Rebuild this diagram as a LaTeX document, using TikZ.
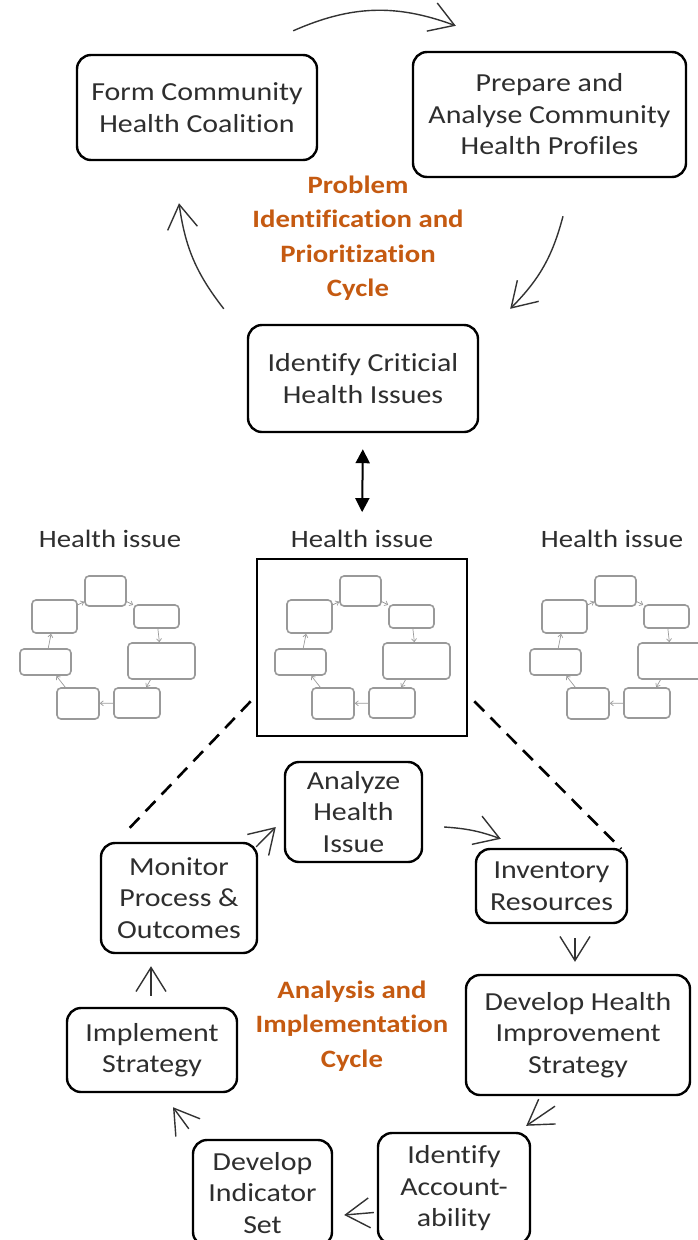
\documentclass[tikz,border=0pt]{standalone}
\usepackage{fontspec}
\setmainfont{Carlito}[FakeStretch=1.15,Ligatures=NoCommon]
\usepackage{tikz}
\usetikzlibrary{arrows.meta}
\definecolor{cyctxt}{HTML}{C55A11}
\definecolor{boxtxt}{HTML}{2E2E2E}
\tikzset{
    mini/.style={draw=gray!80,line width=1.6pt,rounded corners=4pt,inner sep=0pt},
    minarr/.style={-{Straight Barb[length=3pt,width=5pt]},draw=gray!80,line width=0.7pt},
    pics/minicyc/.style={code={
        \node[mini,minimum width=41pt,minimum height=30pt] (-t) at (-1.5,56) {};
        \node[mini,minimum width=45pt,minimum height=23pt] (-ur) at (49.5,30.5) {};
        \node[mini,minimum width=67pt,minimum height=36pt] (-r) at (54.5,-14) {};
        \node[mini,minimum width=46pt,minimum height=30pt] (-br) at (30,-56) {};
        \node[mini,minimum width=42pt,minimum height=31pt] (-bl) at (-29,-56.5) {};
        \node[mini,minimum width=51pt,minimum height=26pt] (-l) at (-61.5,-15) {};
        \node[mini,minimum width=45pt,minimum height=33pt] (-ul) at (-52.5,30.5) {};
        \draw[minarr] (-ul) -- (-t);
        \draw[minarr] (-t) -- (-ur);
        \draw[minarr] (-ur) -- (-r);
        \draw[minarr] (-r) -- (-br);
        \draw[minarr] (-br) -- (-bl);
        \draw[minarr] (-bl) -- (-l);
        \draw[minarr] (-l) -- (-ul);
    }}
}
\begin{document}
\begin{tikzpicture}[x=1pt,y=1pt,
                    box/.style={draw,line width=2.4pt,rounded corners=14pt,align=center,
                                text=boxtxt,inner sep=0pt,font=\fontsize{26}{31.5}\selectfont},
                    lbl/.style={align=center,text=cyctxt,font=\fontsize{25}{34.5}\selectfont\bfseries},
                    hlbl/.style={anchor=base,text=boxtxt,font=\fontsize{25}{30}\selectfont},
                    cyc/.style={-{Straight Barb[length=24pt,width=30pt]},line width=1.4pt,draw=black!80},
                    dbl/.style={{Triangle[length=14pt,width=14pt]}-{Triangle[length=14pt,width=14pt]},line width=2pt},
                    dsh/.style={line width=2.6pt,dash pattern=on 14pt off 9pt}
                    ]
\useasboundingbox (0,0) rectangle (697,-1240);
% problem identification cycle
\node[box,minimum width=240pt,minimum height=105pt] (form) at (197,-107.5) {Form Community\\Health Coalition};
\node[box,minimum width=273pt,minimum height=125pt] (prep) at (549.5,-114.5) {Prepare and\\Analyse Community\\Health Profiles};
\node[lbl] (pic) at (358,-238) {Problem\\Identification and\\Prioritization\\Cycle};
\node[box,minimum width=230pt,minimum height=107pt] (crit) at (363,-378.5) {Identify Criticial\\Health Issues};

\draw[cyc] ([shift={(-25,23)}]form.north east) to[bend left=22] ([shift={(44,25)}]prep.north west);
\draw[cyc] ([shift={(13.5,-38)}]prep.south) to[bend left=15] ([shift={(31,15)}]crit.north east);
\draw[cyc] ([shift={(-23,15)}]crit.north west) to[bend left=15] ([shift={(-18,-42)}]form.south);

% health issues
\node[hlbl] (hil) at (110,-547) {Health issue};
\node[hlbl] (hic) at (362,-547) {Health issue};
\node[hlbl] (hir) at (612,-547) {Health issue};
\node[draw,line width=2.6pt,minimum width=210pt,minimum height=177pt,inner sep=0pt] (sq) at (362,-647.5) {};
\pic (ml) at (107,-647) {minicyc};
\pic (mc) at (362,-647) {minicyc};
\pic (mr) at (617,-647) {minicyc};

\draw[dbl,shorten <=16pt,shorten >=14pt] (crit.south) -- (hic.north);

% analysis and implementation cycle
\node[box,minimum width=137pt,minimum height=100pt] (ana) at (353.5,-812) {Analyze\\Health\\Issue};
\node[box,minimum width=151pt,minimum height=74pt] (inv) at (551.5,-886) {Inventory\\Resources};
\node[box,minimum width=156pt,minimum height=110pt] (mon) at (179,-898) {Monitor\\Process \&\\Outcomes};
\node[box,minimum width=224pt,minimum height=120pt] (devh) at (578,-1035) {Develop Health\\Improvement\\Strategy};
\node[box,minimum width=170pt,minimum height=84pt] (impl) at (152,-1050) {Implement\\Strategy};
\node[box,minimum width=152pt,minimum height=111pt] (acc) at (454,-1188.5) {Identify\\Account-\\ability};
\node[box,minimum width=139pt,minimum height=106pt] (ind) at (262.5,-1193) {Develop\\Indicator\\Set};
\node[lbl] (aic) at (352,-1026) {Analysis and\\Implementation\\Cycle};

\draw[dsh] ([shift={(-5,36)}]sq.south west) -- ([shift={(29,13)}]mon.north west);
\draw[dsh] ([shift={(6,36)}]sq.south east) -- ([shift={(-7,-1)}]inv.north east);

\draw[cyc] ([shift={(-2,-5)}]mon.north east) -- ([shift={(-8,-15)}]ana.west);
\draw[cyc] ([shift={(21,-15)}]ana.east) to[bend left=8] ([shift={(26,9)}]inv.north west);
\draw[cyc] ([shift={(23.5,-14)}]inv.south) -- ([shift={(-3,12)}]devh.north);
\draw[cyc] ([shift={(-23,-10)}]devh.south) -- ([shift={(-5,6)}]acc.north east);
\draw[cyc] ([shift={(-3,-24)}]acc.west) -- ([shift={(11,-22)}]ind.east);
\draw[cyc] ([shift={(-3,10)}]ind.north west) -- ([shift={(21,-14)}]impl.south);
\draw[cyc] ([shift={(-1,11)}]impl.north) -- ([shift={(-28,-12)}]mon.south);
\end{tikzpicture}
\end{document}
